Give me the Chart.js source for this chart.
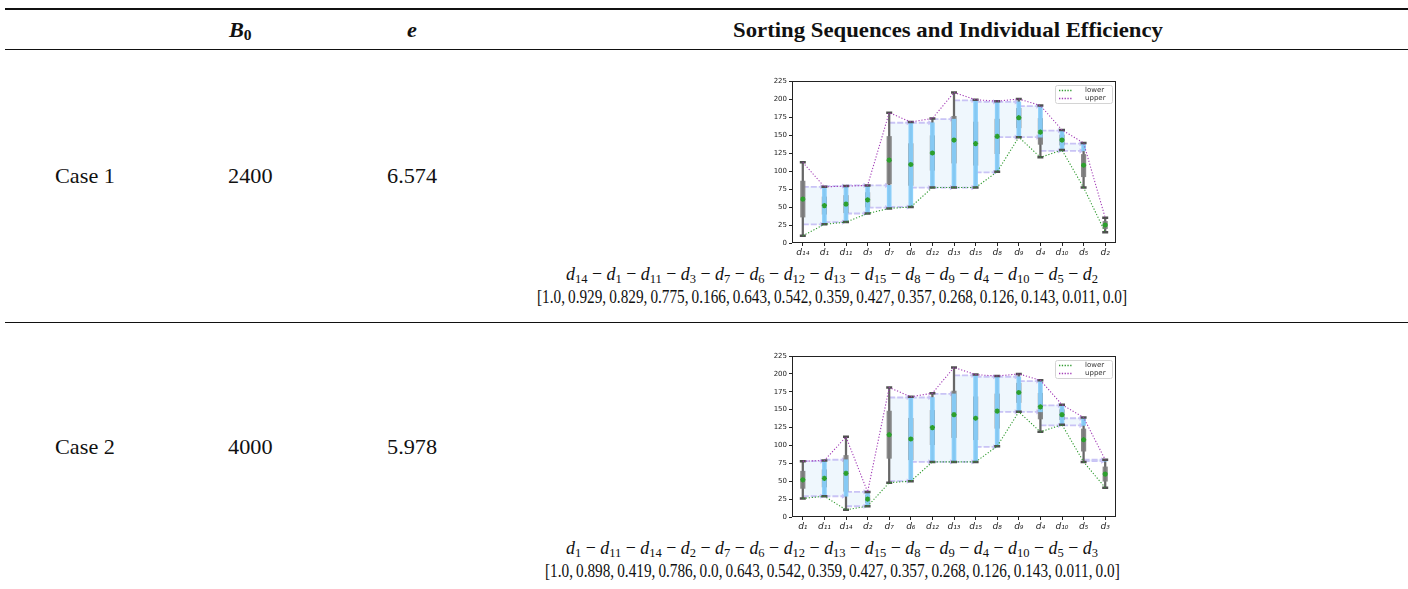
<!DOCTYPE html>
<html><head><meta charset="utf-8">
<script src="https://cdn.jsdelivr.net/npm/chart.js@4.4.0/dist/chart.umd.min.js"></script>
<style>
html,body{margin:0;padding:0;background:#fff;width:1408px;height:589px;overflow:hidden;position:relative;font-family:"Liberation Serif",serif;color:#111;}
.rule{position:absolute;left:5px;right:0;background:#111;}
.t{position:absolute;white-space:nowrap;line-height:1;font-size:21px;transform-origin:left center;}
.t sub{font-size:0.7em;vertical-align:-0.22em;line-height:0;}
.m{font-size:19px;line-height:0.9;}
canvas{position:absolute;}
</style></head><body>
<div class="rule" style="top:8px;height:2px"></div>
<div class="rule" style="top:49px;height:1px"></div>
<div class="rule" style="top:322px;height:1px"></div>
<div class="t" id="hB"><b><i>B</i><sub>0</sub></b></div>
<div class="t" id="hE"><b><i>e</i></b></div>
<div class="t" id="hT"><b>Sorting Sequences and Individual Efficiency</b></div>
<div class="t" id="c1"></div><div class="t" id="b1"></div><div class="t" id="e1"></div>
<div class="t m" id="s1"></div><div class="t m" id="f1"></div>
<div class="t" id="c2"></div><div class="t" id="b2"></div><div class="t" id="e2"></div>
<div class="t m" id="s2"></div><div class="t m" id="f2"></div>
<canvas id="chart1" width="365" height="185" style="left:760px;top:74px"></canvas>
<canvas id="chart2" width="365" height="184" style="left:760px;top:349px"></canvas>
<script>
// ---------- data ----------
const caseNames = ['Case 1', 'Case 2'];
const caseB0 = [2400, 4000];
const caseE = ['6.574', '5.978'];

// per-device statistics (d1 ... d15)
const devices = ['d1','d2','d3','d4','d5','d6','d7','d8','d9','d10','d11','d12','d13','d14','d15'];
const devMin  = [26, 15, 41, 119, 77, 50, 48, 99, 147, 129, 29, 77, 77, 10, 77];
const devQ1   = [40, 20, 50, 137, 92, 80, 82, 124, 160, 136, 42, 101, 111, 36, 108];
const devQ3   = [64, 30, 70, 173, 123, 138, 148, 172, 187, 150, 66, 149, 176, 86, 168];
const devMax  = [78, 35, 80, 191, 139, 168, 181, 197, 200, 157, 79, 173, 209, 112, 199];
const devMean = [52, 25, 60, 154, 108, 109, 115, 148, 174, 143, 54, 125, 143, 61, 138];

// sorting sequences
const case1Order = ['d14','d1','d11','d3','d7','d6','d12','d13','d15','d8','d9','d4','d10','d5','d2'];
const case2Order = ['d1','d11','d14','d2','d7','d6','d12','d13','d15','d8','d9','d4','d10','d5','d3'];

// intervals between consecutive devices (segment i: device i -> device i+1)
const case1SegLow  = [26, 29, 41, 49, 50, 77, 77, 77, 98, 147, 147, 128, 128];
const case1SegHigh = [78, 79, 80, 80, 167, 167, 172, 198, 196, 196, 190, 156, 138];
const case2SegLow  = [29, 29, 15, null, 50, 77, 77, 77, 98, 147, 147, 128, 128, 78];
const case2SegHigh = [78, 80, 35, null, 167, 167, 172, 198, 196, 196, 190, 156, 138, 80];

// individual efficiency
const case1Eff = [1.0, 0.929, 0.829, 0.775, 0.166, 0.643, 0.542, 0.359, 0.427, 0.357, 0.268, 0.126, 0.143, 0.011, 0.0];
const case2Eff = [1.0, 0.898, 0.419, 0.786, 0.0, 0.643, 0.542, 0.359, 0.427, 0.357, 0.268, 0.126, 0.143, 0.011, 0.0];

const yTickMax = 225, yTickStep = 25;

// ---------- text ----------
function fmt(v){ return Number.isInteger(v) ? v.toFixed(1) : String(v); }
function seqHtml(order){ return order.map(d => '<i>d</i><sub>' + d.slice(1) + '</sub>').join(' \u2212 '); }
function effHtml(arr){ return '[' + arr.map(fmt).join(',\u2009') + ']'; }

document.getElementById('c1').textContent = caseNames[0];
document.getElementById('b1').textContent = caseB0[0];
document.getElementById('e1').textContent = caseE[0];
document.getElementById('c2').textContent = caseNames[1];
document.getElementById('b2').textContent = caseB0[1];
document.getElementById('e2').textContent = caseE[1];
document.getElementById('s1').innerHTML = seqHtml(case1Order);
document.getElementById('f1').innerHTML = effHtml(case1Eff);
document.getElementById('s2').innerHTML = seqHtml(case2Order);
document.getElementById('f2').innerHTML = effHtml(case2Eff);

function placeCenter(id, cx, cy, sx){
  const el = document.getElementById(id);
  const r = el.getBoundingClientRect();
  sx = sx || 1;
  el.style.left = (cx - r.width * sx / 2) + 'px';
  el.style.top = (cy - r.height / 2) + 'px';
  el.style.transform = 'scaleX(' + sx + ')';
}
function fitScale(id, w){ return w / document.getElementById(id).getBoundingClientRect().width; }

const sBody = 1.06;
placeCenter('hB', 240, 30, sBody);
placeCenter('hE', 412, 30, sBody);
placeCenter('hT', 948, 30, fitScale('hT', 430));
placeCenter('c1', 85, 176, sBody); placeCenter('b1', 250, 176, sBody); placeCenter('e1', 412, 176, sBody);
placeCenter('c2', 85, 447, sBody); placeCenter('b2', 250, 447, sBody); placeCenter('e2', 412, 447, sBody);
const sSeq = fitScale('s1', 532), sEff = fitScale('f1', 590);
placeCenter('s1', 832, 274, sSeq); placeCenter('f1', 832, 297, sEff);
placeCenter('s2', 832, 548, sSeq); placeCenter('f2', 832, 571, sEff);

// ---------- charts ----------
const C = {
  fill: '#eff7fd', arrow: '#c9c3f5', blue: 'rgba(135,206,250,0.95)',
  whisker: '#676767', box: 'rgba(125,125,125,0.9)', cap: '#505050',
  star: '#2ca02c', lower: '#2f9a2f', upper: '#a23cb6'
};
const SUB = '₀₁₂₃₄₅₆₇₈₉';
function toSub(d){ return 'd' + d.slice(1).split('').map(c => SUB[+c]).join(''); }
function stat(arr, d){ return arr[devices.indexOf(d)]; }

const framePlugin = {
  id: 'frame',
  afterDraw(chart){
    const ctx = chart.ctx, a = chart.chartArea;
    ctx.save();
    ctx.strokeStyle = '#222'; ctx.lineWidth = 1;
    ctx.strokeRect(Math.round(a.left) + 0.5, Math.round(a.top) + 0.5,
                   Math.round(a.right - a.left) - 1, Math.round(a.bottom - a.top) - 1);
    // legend
    const bx = Math.round(a.right) - 61, by = Math.round(a.top) + 4, bw = 57, bh = 18;
    ctx.fillStyle = 'rgba(255,255,255,0.85)';
    ctx.strokeStyle = '#d4d4d4';
    ctx.beginPath(); ctx.roundRect(bx + 0.5, by + 0.5, bw, bh, 2); ctx.fill(); ctx.stroke();
    const items = [['lower', C.lower, by + 5.5], ['upper', C.upper, by + 13.5]];
    ctx.font = '7px "DejaVu Sans"'; ctx.textBaseline = 'middle'; ctx.textAlign = 'left';
    items.forEach(([lab, col, y]) => {
      ctx.strokeStyle = col; ctx.lineWidth = 1.3; ctx.setLineDash([1.3, 1.5]);
      ctx.beginPath(); ctx.moveTo(bx + 4, y); ctx.lineTo(bx + 18, y); ctx.stroke();
      ctx.setLineDash([]);
      ctx.fillStyle = '#333'; ctx.fillText(lab, bx + 30, y);
    });
    ctx.restore();
  }
};

function makeChart(id, order, segLow, segHigh){
  const n = order.length;
  const fillData = [], arrowTop = [], arrowBot = [], blue = new Array(n).fill(null);
  segLow.forEach((lo, i) => {
    const hi = segHigh[i];
    if (lo == null) return;
    fillData.push({x: i + 0.5, y: [lo, hi]});
    arrowTop.push({x: i, y: hi}, {x: i + 0.88, y: hi}, {x: i + 1, y: null});
    arrowBot.push({x: i, y: lo}, {x: i + 0.88, y: lo}, {x: i + 1, y: null});
    blue[i + 1] = [lo, hi];
  });
  const mins = order.map(d => stat(devMin, d));
  const maxs = order.map(d => stat(devMax, d));
  const arrowDs = (data) => ({
    type: 'line', xAxisID: 'x2', data, borderColor: C.arrow, borderWidth: 1.8,
    borderDash: [6, 2], spanGaps: false, order: 15,
    pointStyle: 'triangle', pointRotation: 90, pointBorderWidth: 0,
    pointBackgroundColor: C.arrow, pointRadius: c => (c.dataIndex % 3 === 1 ? 3 : 0)
  });
  return new Chart(document.getElementById(id), {
    type: 'bar',
    data: {
      labels: order,
      datasets: [
        { type: 'bar', xAxisID: 'x2', data: fillData, backgroundColor: C.fill,
          barPercentage: 1, categoryPercentage: 1, grouped: false, order: 20 },
        arrowDs(arrowTop),
        arrowDs(arrowBot),
        { type: 'bar', data: order.map(d => [stat(devMin, d), stat(devMax, d)]),
          backgroundColor: C.whisker, barThickness: 1.6, grouped: false, order: 12 },
        { type: 'bar', data: order.map(d => [stat(devQ1, d), stat(devQ3, d)]),
          backgroundColor: C.box, barThickness: 4.5, grouped: false, order: 11 },
        { type: 'bar', data: blue, backgroundColor: C.blue, barThickness: 4,
          grouped: false, order: 10 },
        { type: 'line', data: mins, showLine: false, pointStyle: 'line', pointRadius: 3,
          pointBorderWidth: 2.5, pointBorderColor: C.cap, order: 9 },
        { type: 'line', data: maxs, showLine: false, pointStyle: 'line', pointRadius: 3,
          pointBorderWidth: 2.5, pointBorderColor: C.cap, order: 9 },
        { type: 'line', label: 'lower', data: mins, borderColor: C.lower, borderWidth: 1.1,
          borderDash: [1.2, 1.8], pointRadius: 0, order: 5 },
        { type: 'line', label: 'upper', data: maxs, borderColor: C.upper, borderWidth: 1.1,
          borderDash: [1.2, 1.8], pointRadius: 0, order: 5 },
        { type: 'line', data: order.map(d => stat(devMean, d)), showLine: false,
          pointStyle: 'star', pointRadius: 2.6, pointBorderWidth: 1.4,
          pointBorderColor: C.star, pointBackgroundColor: C.star, order: 1 }
      ]
    },
    options: {
      responsive: false, animation: false, devicePixelRatio: 1,
      layout: { padding: { left: 0, top: 7, right: 9, bottom: 0 } },
      plugins: { legend: { display: false }, tooltip: { enabled: false } },
      scales: {
        x: {
          type: 'category', offset: true,
          grid: { display: true, drawOnChartArea: false, offset: false, tickLength: 3, color: '#222' },
          border: { display: false },
          ticks: { autoSkip: false, maxRotation: 0, padding: 1, color: '#222',
                   font: { family: 'DejaVu Sans', style: 'italic', size: 9 },
                   callback: (v, i) => toSub(order[i]) },
          afterFit: s => { s.height = 16; }
        },
        x2: {
          type: 'linear', display: false, min: -0.5, max: n - 0.5, offset: false,
          afterBuildTicks: s => { s.ticks = Array.from({length: n - 1}, (_, i) => ({value: i + 0.5})); }
        },
        y: {
          type: 'linear', min: 0, max: yTickMax,
          grid: { display: true, drawOnChartArea: false, tickLength: 3, color: '#222' },
          border: { display: false },
          ticks: { stepSize: yTickStep, padding: 2, color: '#222', font: { family: 'DejaVu Sans', size: 7 } },
          afterFit: s => { s.width = 32; }
        }
      }
    },
    plugins: [framePlugin]
  });
}

makeChart('chart1', case1Order, case1SegLow, case1SegHigh);
makeChart('chart2', case2Order, case2SegLow, case2SegHigh);
</script>
</body></html>
